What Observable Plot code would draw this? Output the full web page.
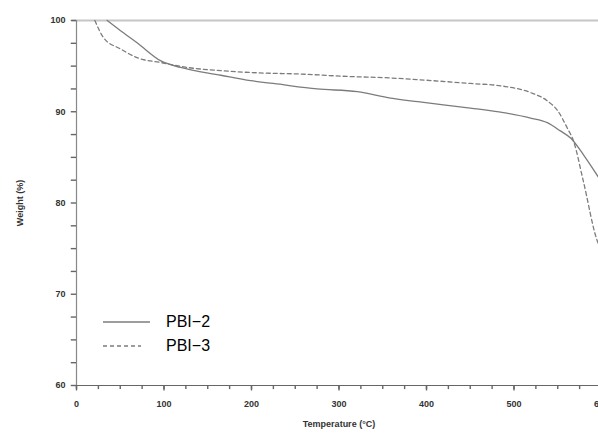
<!DOCTYPE html>
<html>
<head>
<meta charset="utf-8">
<script src="https://cdn.jsdelivr.net/npm/d3@7"></script>
<script src="https://cdn.jsdelivr.net/npm/@observablehq/plot@0.6"></script>
<style>
  html, body { margin: 0; padding: 0; background: #fff; }
  #wrap { position: relative; width: 598px; height: 434px; overflow: hidden; }
  .leg { position: absolute; font-family: Arial, "Liberation Sans", sans-serif; font-size: 16px; color: #000; display: flex; align-items: center; }
  .leg svg { margin-right: 16px; }
</style>
</head>
<body>
<div id="wrap"></div>
<script>
// Data (temperature °C, weight %)
const pbi2Temp   = [35, 50, 70, 96, 119, 165, 199, 225, 275, 321, 359, 390, 450, 488, 519, 538, 553, 565, 580, 600];
const pbi2Weight = [100, 98.9, 97.5, 95.6, 94.85, 94.0, 93.4, 93.1, 92.5, 92.2, 91.5, 91.1, 90.4, 89.9, 89.3, 88.8, 87.9, 87.1, 85.2, 82.3];
const pbi3Temp   = [21, 31, 50, 70, 96, 127, 165, 199, 264, 302, 359, 393, 450, 488, 519, 538, 550, 561, 568, 579, 595, 600];
const pbi3Weight = [100, 98.1, 96.9, 95.9, 95.4, 94.85, 94.5, 94.3, 94.1, 93.9, 93.7, 93.5, 93.1, 92.8, 92.1, 91.2, 90.1, 88.2, 86.8, 82.5, 75.9, 74.8];
const seriesNames = ["PBI\u22122", "PBI\u22123"];
const xMajorTicks = [0, 100, 200, 300, 400, 500, 600];
const xMinorTicks = d3.range(0, 601, 25);
const yMajorTicks = [60, 70, 80, 90, 100];
const yMinorTicks = d3.range(60, 100.1, 2.5);

const pbi2 = pbi2Temp.map((t, i) => ({t, w: pbi2Weight[i]}));
const pbi3 = pbi3Temp.map((t, i) => ({t, w: pbi3Weight[i]}));

const axisColor = "#666";
const curveColor = "#7c7c7c";

const chart = Plot.plot({
  width: 598,
  height: 434,
  marginLeft: 76,
  marginRight: -3,
  marginTop: 20,
  marginBottom: 49,
  style: {fontFamily: "Arial, 'Liberation Sans', sans-serif", background: "#fff", color: "#333"},
  x: {domain: [0, 600]},
  y: {domain: [60, 100]},
  marks: [
    Plot.ruleY([100], {stroke: "#c6c6c6", strokeWidth: 2, x1: -5, x2: 600}),
    Plot.ruleY([60], {stroke: axisColor, strokeWidth: 1.2, x1: -5, x2: 600}),
    Plot.ruleX([0], {stroke: "#888", strokeWidth: 1.2}),
    // minor / major tick marks drawn through the scales
    Plot.ruleY(yMinorTicks, {y: d => d, x1: -6, x2: 0, stroke: axisColor, strokeWidth: 1.4}),
    Plot.ruleX(xMinorTicks, {x: d => d, y1: 60, y2: 59.55, stroke: axisColor, strokeWidth: 1.4}),
    Plot.ruleX(xMajorTicks, {x: d => d, y1: 60, y2: 59.4, stroke: axisColor, strokeWidth: 1.4}),
    Plot.axisY({ticks: yMajorTicks, tickSize: 0, tickPadding: 11, fontWeight: "bold", fontSize: 9,
      label: "Weight (%)", labelAnchor: "center", labelArrow: "none", labelOffset: 60}),
    Plot.axisX({ticks: xMajorTicks, tickSize: 0, tickPadding: 15, fontWeight: "bold", fontSize: 9,
      label: "Temperature (°C)", labelAnchor: "center", labelArrow: "none", labelOffset: 41}),
    Plot.line(pbi2, {x: "t", y: "w", stroke: curveColor, strokeWidth: 1.3, curve: "monotone-x"}),
    Plot.line(pbi3, {x: "t", y: "w", stroke: curveColor, strokeWidth: 1.3, strokeDasharray: "4,3", curve: "monotone-x"})
  ]
});

const wrap = document.getElementById("wrap");
wrap.appendChild(chart);

// Legend
const legendDefs = [
  {name: seriesNames[0], dash: null, len: 47, top: 312},
  {name: seriesNames[1], dash: "4,3", len: 38, top: 336}
];
legendDefs.forEach(d => {
  const div = document.createElement("div");
  div.className = "leg";
  div.style.left = "103px";
  div.style.top = d.top + "px";
  div.style.height = "20px";
  div.innerHTML = `<svg width="47" height="4"><line x1="0" x2="${d.len}" y1="2" y2="2" stroke="${curveColor}" stroke-width="1.3" ${d.dash ? `stroke-dasharray="${d.dash}"` : ""}/></svg><span>${d.name}</span>`;
  wrap.appendChild(div);
});
</script>
</body>
</html>
